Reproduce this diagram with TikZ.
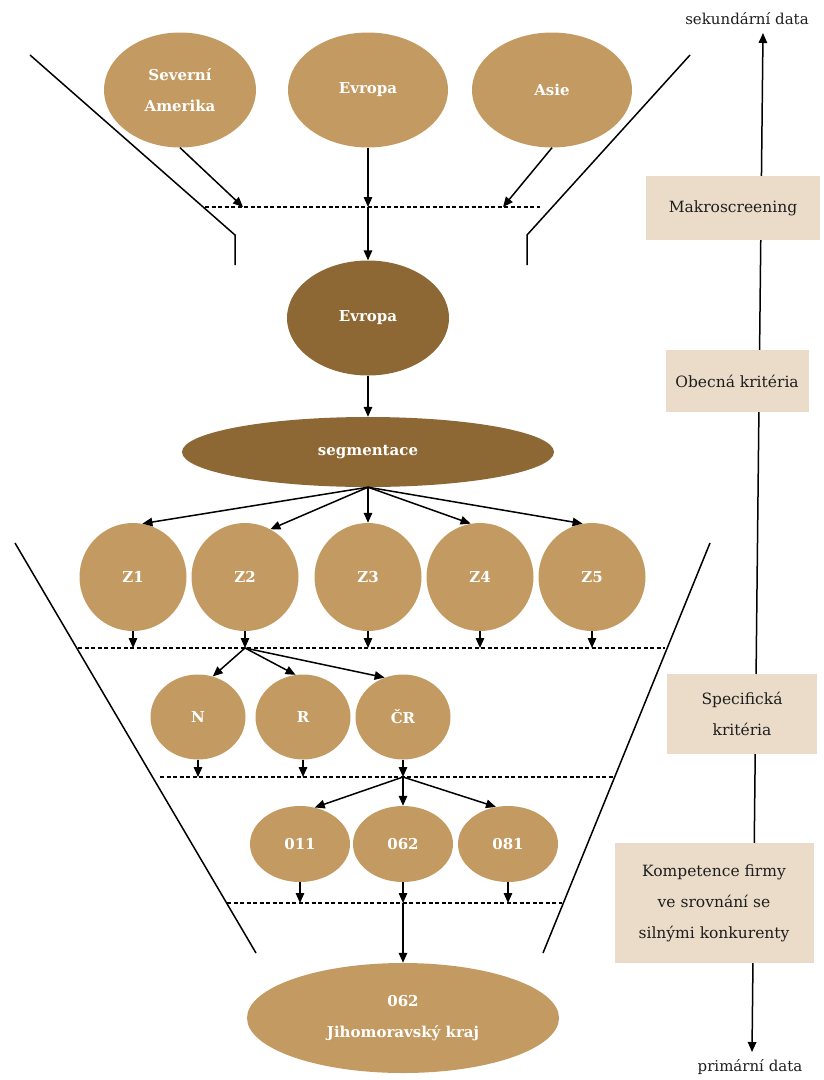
\documentclass[tikz,border=0pt]{standalone}
\usepackage{fontspec}
\setmainfont{DejaVu Serif}
\usetikzlibrary{arrows.meta,shapes.geometric}
\definecolor{clrTan}{RGB}{195,155,98}
\definecolor{clrDark}{RGB}{141,104,52}
\definecolor{clrBox}{RGB}{234,220,200}
\definecolor{clrTxt}{RGB}{30,30,30}
\tikzset{
  region/.style={ellipse,fill=clrTan,text=white,inner sep=0pt,align=center,
    font=\fontsize{15}{31}\selectfont\bfseries},
  regionD/.style={region,fill=clrDark},
  stagebox/.style={rectangle,fill=clrBox,text=clrTxt,inner sep=0pt,align=center,
    font=\fontsize{15.5}{31}\selectfont},
  axislabel/.style={text=clrTxt,inner sep=0pt,font=\fontsize{15}{18}\selectfont},
  arrow/.style={-{Triangle[length=10pt,width=8.5pt]},line width=1.5pt},
  axis/.style={{Triangle[length=10pt,width=8.5pt]}-{Triangle[length=10pt,width=8.5pt]},line width=1.5pt},
  sieve/.style={line width=1.1pt,dash pattern=on 4pt off 2.5pt},
  funnel/.style={line width=1.5pt}
}
\begin{document}
\begin{tikzpicture}[x=1pt,y=-1pt]
  \useasboundingbox (0,0) rectangle (824,1080);
  % funnels
  \draw[funnel] (30,55) -- (235,235) -- (235,265);
  \draw[funnel] (690,55) -- (527,235) -- (527,265);
  \draw[funnel] (15,543) -- (256,953);
  \draw[funnel] (710,543) -- (543,953);
  % sieves
  \coordinate (d1l) at (205,207); \coordinate (d1r) at (540,207);
  \coordinate (d2l) at (78,648);  \coordinate (d2r) at (665,648);
  \coordinate (d3l) at (160,777); \coordinate (d3r) at (613,777);
  \coordinate (d4l) at (227,903); \coordinate (d4r) at (562,903);
  \draw[sieve] (d1l) -- (d1r);
  \draw[sieve] (d2l) -- (d2r);
  \draw[sieve] (d3l) -- (d3r);
  \draw[sieve] (d4l) -- (d4r);
  % continents
  \node[region,minimum width=152,minimum height=115] (sa) at (180,90) {Severní\\Amerika};
  \node[region,minimum width=160,minimum height=115] (ev) at (368,90) {Evropa};
  \node[region,minimum width=160,minimum height=115] (as) at (552,90) {Asie};
  \coordinate (d1a) at (243,207);
  \coordinate (d1b) at (368,207);
  \coordinate (d1c) at (503,207);
  \draw[arrow] (sa.south) -- (d1a);
  \draw[arrow] (ev.south) -- (d1b);
  \draw[arrow] (as.south) -- (d1c);
  \node[regionD,minimum width=162,minimum height=115] (evD) at (368,318) {Evropa};
  \draw[arrow] (d1b) -- (evD.north);
  \node[regionD,minimum width=372,minimum height=70] (seg) at (368,452) {segmentace};
  \draw[arrow] (evD.south) -- (seg.north);
  % zones
  \foreach \k/\x/\a in {1/133/80,2/245/62,3/368/90,4/480/100,5/592/100}{
    \node[region,minimum width=107,minimum height=108] (z\k) at (\x,577) {Z\k};
    \draw[arrow] (seg.south) -- (z\k.\a);
    \draw[arrow] (z\k.south) -- (z\k.south |- d2l);
  }
  % countries
  \node[region,minimum width=95,minimum height=85] (n) at (198,717) {N};
  \node[region,minimum width=95,minimum height=85] (r) at (303,717) {R};
  \node[region,minimum width=95,minimum height=85] (cr) at (403,717) {ČR};
  \coordinate (j2) at (z2.south |- d2l);
  \draw[arrow] (j2) -- (n.70);
  \draw[arrow] (j2) -- (r.100);
  \draw[arrow] (j2) -- (cr.115);
  \foreach \c in {n,r,cr}
    \draw[arrow] (\c.south) -- (\c.south |- d3l);
  % districts
  \node[region,minimum width=100,minimum height=76] (o11) at (300,844) {011};
  \node[region,minimum width=100,minimum height=76] (o62) at (403,844) {062};
  \node[region,minimum width=100,minimum height=76] (o81) at (508,844) {081};
  \coordinate (j3) at (cr.south |- d3l);
  \draw[arrow] (j3) -- (o11.68);
  \draw[arrow] (j3) -- (o62.north);
  \draw[arrow] (j3) -- (o81.108);
  \foreach \c in {o11,o62,o81}
    \draw[arrow] (\c.south) -- (\c.south |- d4l);
  \node[region,minimum width=312,minimum height=110] (fin) at (403,1018) {062\\Jihomoravský kraj};
  \draw[arrow] (o62.south |- d4l) -- (fin.north);
  % data axis
  \node[axislabel] (sek) at (747,19) {sekundární data};
  \node[axislabel] (pri) at (750,1067) {primární data};
  \coordinate (axT) at (763,33);
  \coordinate (axB) at (752,1052);
  \draw[axis] (axB) -- (axT);
  \node[stagebox,minimum width=174,minimum height=64] (mak) at (733,208) {Makroscreening};
  \node[stagebox,minimum width=143,minimum height=62] (obe) at (737,381) {Obecná kritéria};
  \node[stagebox,minimum width=150,minimum height=80] (spe) at (742,714) {Specifická\\kritéria};
  \node[stagebox,minimum width=199,minimum height=120] (kom) at (714,903) {Kompetence firmy\\ve srovnání se\\silnými konkurenty};
\end{tikzpicture}
\end{document}
